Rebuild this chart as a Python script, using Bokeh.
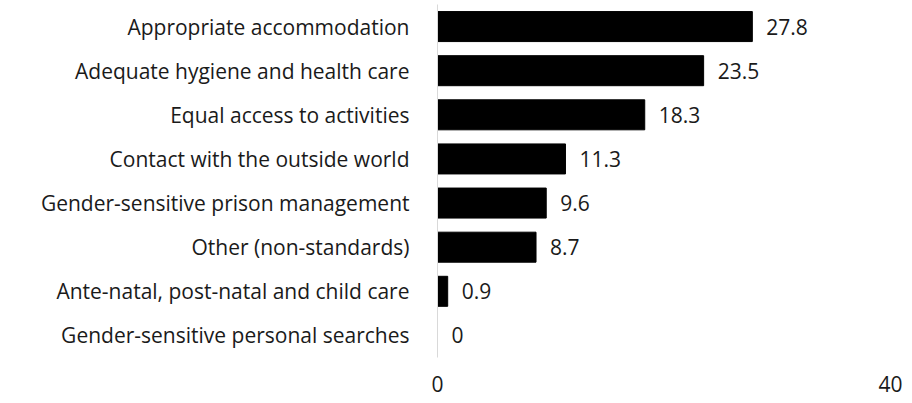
from bokeh.plotting import figure
from bokeh.models import ColumnDataSource, FactorRange, FixedTicker, Range1d
from bokeh.core.properties import value
from bokeh.embed import file_html
from bokeh.resources import INLINE

categories = [
    "Appropriate accommodation",
    "Adequate hygiene and health care",
    "Equal access to activities",
    "Contact with the outside world",
    "Gender-sensitive prison management",
    "Other (non-standards)",
    "Ante-natal, post-natal and child care",
    "Gender-sensitive personal searches",
]
values = [27.8, 23.5, 18.3, 11.3, 9.6, 8.7, 0.9, 0]
labels = ["27.8", "23.5", "18.3", "11.3", "9.6", "8.7", "0.9", "0"]
x_ticks = [0, 40]

FONT = "Open Sans"
FS = "21px"

src = ColumnDataSource(dict(cat=categories, val=values, lab=labels))

p = figure(
    width=905, height=401,
    y_range=FactorRange(*list(reversed(categories)), range_padding=0),
    x_range=Range1d(0, 40),
    output_backend="svg", toolbar_location=None,
    min_border_left=437, min_border_right=15, min_border_top=4, min_border_bottom=44,
)
p.hbar(y="cat", right="val", left=0, height=0.68, source=src,
       fill_color="black", line_color="black")
p.text(x="val", y="cat", text="lab", source=src, x_offset=14,
       text_baseline="middle", text_align="left",
       text_font=value(FONT), text_font_size=FS, text_color="#1a1a1a")

p.outline_line_color = None
p.grid.grid_line_color = None
p.background_fill_color = "white"
p.border_fill_color = "white"

p.xaxis.ticker = FixedTicker(ticks=x_ticks)
p.xaxis.axis_line_color = None
p.xaxis.major_tick_line_color = None
p.xaxis.minor_tick_line_color = None
p.xaxis.major_label_standoff = 12
p.xaxis.major_label_text_font = FONT
p.xaxis.major_label_text_font_size = FS
p.xaxis.major_label_text_color = "#1a1a1a"

p.yaxis.axis_line_color = "#d9d9d9"
p.yaxis.major_tick_line_color = None
p.yaxis.minor_tick_line_color = None
p.yaxis.major_label_standoff = 22
p.yaxis.major_label_text_font = FONT
p.yaxis.major_label_text_font_size = FS
p.yaxis.major_label_text_color = "#1a1a1a"

open("out.html", "w").write(file_html(p, INLINE))
